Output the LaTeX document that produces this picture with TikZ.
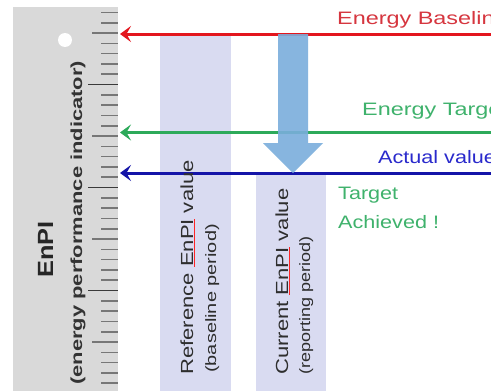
\documentclass[tikz,border=0pt]{standalone}
\usepackage{fontspec}
\setmainfont{Liberation Sans}
\usetikzlibrary{arrows.meta}

\definecolor{rulergray}{HTML}{D9D9D9}
\definecolor{tickgray}{HTML}{777777}
\definecolor{tickdark}{HTML}{3A3A3A}
\definecolor{colfill}{HTML}{D9DBF1}
\definecolor{baseRed}{HTML}{E3161E}
\definecolor{baseRedText}{HTML}{D6363F}
\definecolor{targetGreen}{HTML}{2DAA5A}
\definecolor{targetGreenText}{HTML}{3FB26C}
\definecolor{actualBlue}{HTML}{1414A8}
\definecolor{actualBlueText}{HTML}{2A2ACC}
\definecolor{dropBlue}{HTML}{7AAEDC}
\definecolor{labelGray}{HTML}{2E2E2E}

\newcommand{\wide}[2]{\scalebox{#1}[1]{#2}}
\newcommand{\spellmark}[1]{{\color{red!85}\underline{\color{labelGray}#1}}}

\begin{document}
\begin{tikzpicture}[x=1pt,y=-1pt,
  level/.style={line width=3pt,-{Stealth[length=11pt,width=16pt,inset=4.5pt]}},
  tickshort/.style={draw=tickgray,line width=1.6pt},
  tickmid/.style={draw=tickgray,line width=1.6pt},
  tickbig/.style={draw=tickdark,line width=1.7pt},
  hlabel/.style={anchor=base west,inner sep=0pt,font=\fontsize{18}{22}\selectfont},
  vlabel/.style={rotate=90,anchor=base west,inner sep=0pt,text=labelGray},
]
\useasboundingbox (0,0) rectangle (491,391);
\fill[white] (0,0) rectangle (491,391);

% ruler strip with its scale
\fill[rulergray] (13,7) rectangle (118,395);
\fill[white] (65,40) circle (7);
\foreach \i in {-2,...,34}{
  \pgfmathtruncatemacro\m{mod(\i+10,10)}
  \pgfmathtruncatemacro\f{mod(\i+10,5)}
  \ifnum\f=0
    \ifnum\m=0
      \draw[tickmid] (92,{33+10.3*\i}) -- (118,{33+10.3*\i});
    \else
      \draw[tickbig] (88,{33+10.3*\i}) -- (118,{33+10.3*\i});
    \fi
  \else
    \draw[tickshort] (101,{33+10.3*\i}) -- (118,{33+10.3*\i});
  \fi
}

% period columns
\fill[colfill] (160,34) rectangle (231,395);
\fill[colfill] (256,175) rectangle (326,395);

% level lines pointing at the scale
\coordinate (redEnd) at (495,34);
\coordinate (redTip) at (120,34);
\coordinate (greenEnd) at (495,132.5);
\coordinate (greenTip) at (120,132.5);
\coordinate (blueEnd) at (495,173);
\coordinate (blueTip) at (120,173);
\draw[level,baseRed] (redEnd) -- (redTip);
\draw[level,targetGreen] (greenEnd) -- (greenTip);
\draw[level,actualBlue] (blueEnd) -- (blueTip);

% drop from baseline to actual value
\fill[dropBlue,opacity=0.9] (278,34) -- (308,34) -- (308,143) -- (323,143)
  -- (293,173) -- (263,143) -- (278,143) -- cycle;

% level labels
\node[hlabel,text=baseRedText] (lblBaseline) at (337,24) {\wide{1.3}{Energy Baseline}};
\node[hlabel,text=targetGreenText] (lblTarget) at (362,115.5) {\wide{1.3}{Energy Target}};
\node[hlabel,text=actualBlueText] (lblActual) at (378,163) {\wide{1.2}{Actual value}};
\node[hlabel,text=targetGreenText] (lblAch1) at (338,199) {\wide{1.2}{Target}};
\node[hlabel,text=targetGreenText] (lblAch2) at (338,228) {\wide{1.2}{Achieved !}};

% axis title
\node[vlabel,text=black!85,font=\bfseries\fontsize{22}{26}\selectfont] (axisTitle) at (53,278) {\wide{1.15}{EnPI}};
\node[vlabel,text=black!80,font=\bfseries\fontsize{16}{20}\selectfont] (axisSub) at (82,385) {\wide{1.37}{(energy performance indicator)}};

% column captions
\node[vlabel,font=\fontsize{17.5}{21}\selectfont] (refMain) at (193,375) {\wide{1.26}{Reference \spellmark{EnPI} value}};
\node[vlabel,font=\fontsize{15}{18}\selectfont] (refSub) at (216,373) {\wide{1.33}{(baseline period)}};
\node[vlabel,font=\fontsize{17.5}{21}\selectfont] (curMain) at (288,375) {\wide{1.26}{Current \spellmark{EnPI} value}};
\node[vlabel,font=\fontsize{15}{18}\selectfont] (curSub) at (310,375) {\wide{1.2}{(reporting period)}};
\end{tikzpicture}
\end{document}
